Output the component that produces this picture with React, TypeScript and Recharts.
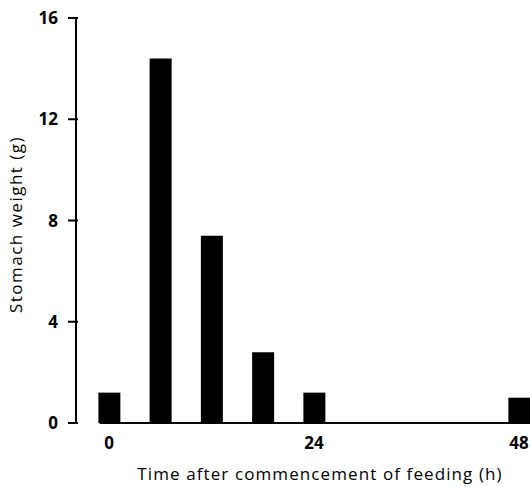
import { BarChart, Bar, XAxis, YAxis, ReferenceLine } from 'recharts';

const hours = [0, 6, 12, 18, 24, 48];
const stomachWeight = [1.2, 14.4, 7.4, 2.8, 1.2, 1.0];
const xTicks = [0, 24, 48];
const yTicks = [0, 4, 8, 12, 16];

const data = hours.map((h, i) => ({ hour: h, weight: stomachWeight[i] }));

const font = '"Open Sans", "DejaVu Sans", sans-serif';

function YTick(props: any) {
  const { x, y, payload } = props;
  return (
    <g>
      <line x1={x} x2={x + 10} y1={y} y2={y} stroke="#000" strokeWidth={2} />
      <text
        x={x - 10}
        y={y}
        dy={6}
        textAnchor="end"
        fontSize={17}
        fontWeight={700}
        fontFamily={font}
        fill="#000"
      >
        {payload.value}
      </text>
    </g>
  );
}

export default function App() {
  return (
    <div style={{ position: 'absolute', left: 0, top: 0, background: '#fff' }}>
      <BarChart
        width={530}
        height={487}
        data={data}
        margin={{ top: 18, right: 0, bottom: 0, left: 0 }}
        barSize={22}
      >
        <XAxis
          dataKey="hour"
          type="number"
          domain={[0, 48]}
          ticks={xTicks}
          padding={{ left: 33, right: 11 }}
          axisLine={false}
          tickLine={false}
          height={64}
          tickMargin={8}
          tick={{ fill: '#000', fontSize: 17, fontWeight: 700, fontFamily: font }}
          label={{
            value: 'Time after commencement of feeding (h)',
            position: 'insideBottom',
            offset: 7,
            dx: 17,
            fill: '#000',
            fontSize: 17,
            fontFamily: font,
            style: { letterSpacing: 1.1 },
          }}
        />
        <YAxis
          domain={[0, 16]}
          ticks={yTicks}
          width={76}
          axisLine={{ stroke: '#000', strokeWidth: 2 }}
          tickLine={false}
          tick={<YTick />}
          label={{
            value: 'Stomach weight (g)',
            angle: -90,
            position: 'insideLeft',
            offset: 16,
            dy: 4,
            fill: '#000',
            fontSize: 17,
            fontFamily: font,
            style: { textAnchor: 'middle', letterSpacing: 1.5 },
          }}
        />
        <ReferenceLine
          segment={[
            { x: -1.1, y: 0 },
            { x: 49.3, y: 0 },
          ]}
          stroke="#000"
          strokeWidth={2}
          ifOverflow="visible"
        />
        <Bar dataKey="weight" fill="#000" isAnimationActive={false} />
      </BarChart>
    </div>
  );
}
